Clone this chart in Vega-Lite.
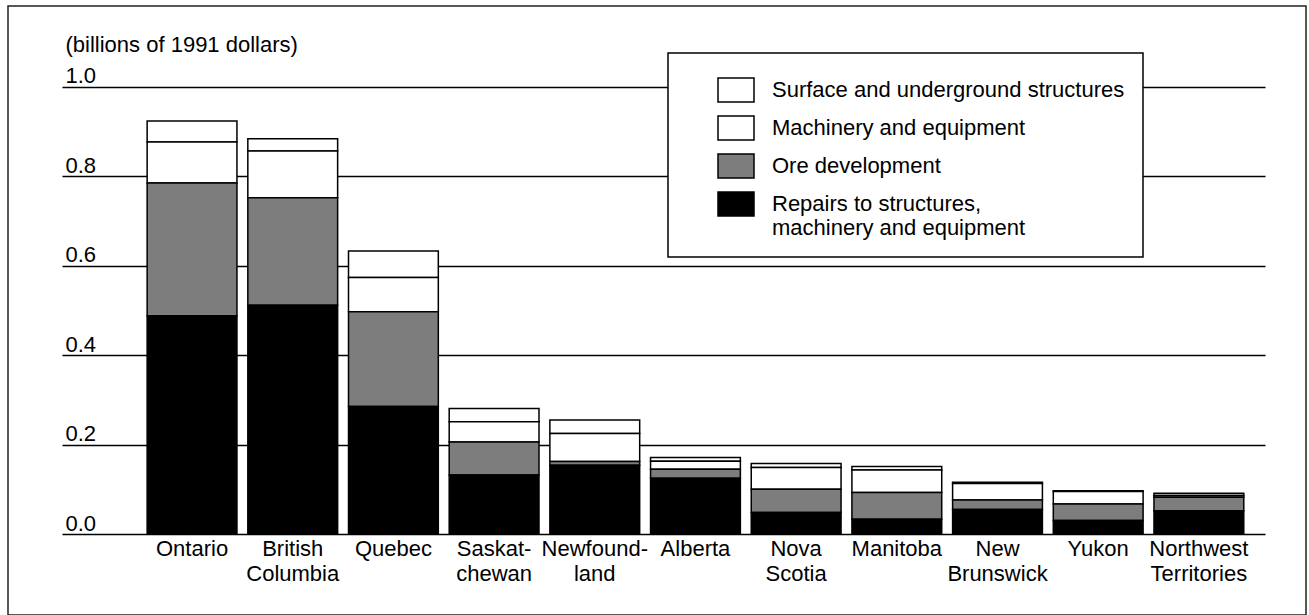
{
  "$schema": "https://vega.github.io/schema/vega-lite/v6.json",
  "width": 1298,
  "height": 609,
  "autosize": {"type": "none"},
  "padding": {"left": 8, "top": 6, "right": 3, "bottom": 0},
  "background": "white",
  "config": {
    "font": "Liberation Sans",
    "view": {"stroke": "#222", "strokeWidth": 1.5}
  },
  "data": {
    "values": [
      {"province": "Ontario", "component": "Surface and underground structures", "value": 0.047},
      {"province": "Ontario", "component": "Machinery and equipment", "value": 0.092},
      {"province": "Ontario", "component": "Ore development", "value": 0.297},
      {"province": "Ontario", "component": "Repairs to structures, machinery and equipment", "value": 0.488},
      {"province": "British Columbia", "component": "Surface and underground structures", "value": 0.027},
      {"province": "British Columbia", "component": "Machinery and equipment", "value": 0.105},
      {"province": "British Columbia", "component": "Ore development", "value": 0.240},
      {"province": "British Columbia", "component": "Repairs to structures, machinery and equipment", "value": 0.512},
      {"province": "Quebec", "component": "Surface and underground structures", "value": 0.059},
      {"province": "Quebec", "component": "Machinery and equipment", "value": 0.077},
      {"province": "Quebec", "component": "Ore development", "value": 0.212},
      {"province": "Quebec", "component": "Repairs to structures, machinery and equipment", "value": 0.285},
      {"province": "Saskatchewan", "component": "Surface and underground structures", "value": 0.030},
      {"province": "Saskatchewan", "component": "Machinery and equipment", "value": 0.045},
      {"province": "Saskatchewan", "component": "Ore development", "value": 0.074},
      {"province": "Saskatchewan", "component": "Repairs to structures, machinery and equipment", "value": 0.132},
      {"province": "Newfoundland", "component": "Surface and underground structures", "value": 0.030},
      {"province": "Newfoundland", "component": "Machinery and equipment", "value": 0.063},
      {"province": "Newfoundland", "component": "Ore development", "value": 0.008},
      {"province": "Newfoundland", "component": "Repairs to structures, machinery and equipment", "value": 0.154},
      {"province": "Alberta", "component": "Surface and underground structures", "value": 0.008},
      {"province": "Alberta", "component": "Machinery and equipment", "value": 0.018},
      {"province": "Alberta", "component": "Ore development", "value": 0.020},
      {"province": "Alberta", "component": "Repairs to structures, machinery and equipment", "value": 0.125},
      {"province": "Nova Scotia", "component": "Surface and underground structures", "value": 0.009},
      {"province": "Nova Scotia", "component": "Machinery and equipment", "value": 0.049},
      {"province": "Nova Scotia", "component": "Ore development", "value": 0.052},
      {"province": "Nova Scotia", "component": "Repairs to structures, machinery and equipment", "value": 0.048},
      {"province": "Manitoba", "component": "Surface and underground structures", "value": 0.008},
      {"province": "Manitoba", "component": "Machinery and equipment", "value": 0.050},
      {"province": "Manitoba", "component": "Ore development", "value": 0.060},
      {"province": "Manitoba", "component": "Repairs to structures, machinery and equipment", "value": 0.033},
      {"province": "New Brunswick", "component": "Surface and underground structures", "value": 0.003},
      {"province": "New Brunswick", "component": "Machinery and equipment", "value": 0.037},
      {"province": "New Brunswick", "component": "Ore development", "value": 0.021},
      {"province": "New Brunswick", "component": "Repairs to structures, machinery and equipment", "value": 0.055},
      {"province": "Yukon", "component": "Surface and underground structures", "value": 0.002},
      {"province": "Yukon", "component": "Machinery and equipment", "value": 0.028},
      {"province": "Yukon", "component": "Ore development", "value": 0.037},
      {"province": "Yukon", "component": "Repairs to structures, machinery and equipment", "value": 0.030},
      {"province": "Northwest Territories", "component": "Surface and underground structures", "value": 0.005},
      {"province": "Northwest Territories", "component": "Machinery and equipment", "value": 0.004},
      {"province": "Northwest Territories", "component": "Ore development", "value": 0.030},
      {"province": "Northwest Territories", "component": "Repairs to structures, machinery and equipment", "value": 0.052}
    ]
  },
  "transform": [
    {"calculate": "indexof(['Surface and underground structures', 'Machinery and equipment', 'Ore development', 'Repairs to structures, machinery and equipment'], datum.component)", "as": "stack_rank"}
  ],
  "mark": {"type": "bar", "stroke": "black", "strokeWidth": 1.5},
  "encoding": {
    "x": {
      "field": "province",
      "type": "nominal",
      "sort": null,
      "scale": {"paddingInner": 0.108, "paddingOuter": 1.0245, "align": 0.691},
      "axis": {
        "title": null,
        "orient": "bottom",
        "offset": -81,
        "domain": false,
        "ticks": false,
        "labelAngle": 0,
        "labelAlign": "center",
        "labelBaseline": "top",
        "labelPadding": 4,
        "labelFontSize": 22,
        "labelLineHeight": 25,
        "labelColor": "black",
        "labelLimit": 0,
        "labelExpr": "datum.value == 'Saskatchewan' ? ['Saskat-', 'chewan'] : datum.value == 'Newfoundland' ? ['Newfound-', 'land'] : split(datum.value, ' ')"
      }
    },
    "y": {
      "field": "value",
      "type": "quantitative",
      "stack": "zero",
      "scale": {"domain": [-0.1812, 1.1812], "nice": false, "zero": false},
      "axis": {
        "orient": "left",
        "offset": -54,
        "domain": false,
        "grid": false,
        "ticks": true,
        "tickSize": -1203,
        "tickColor": "black",
        "tickWidth": 1.5,
        "values": [0, 0.2, 0.4, 0.6, 0.8, 1.0],
        "format": ".1f",
        "labelAlign": "left",
        "labelBaseline": "alphabetic",
        "labelPadding": 1200,
        "labelOffset": -4,
        "labelFontSize": 22,
        "labelColor": "black",
        "title": "(billions of 1991 dollars)",
        "titleAngle": 0,
        "titleAlign": "left",
        "titleBaseline": "alphabetic",
        "titleX": 3,
        "titleY": 45,
        "titleFontSize": 22,
        "titleFontWeight": "normal",
        "titleColor": "black"
      }
    },
    "order": {"field": "stack_rank", "type": "quantitative", "sort": "descending"},
    "color": {
      "field": "component",
      "type": "nominal",
      "sort": [
        "Surface and underground structures",
        "Machinery and equipment",
        "Ore development",
        "Repairs to structures, machinery and equipment"
      ],
      "scale": {"range": ["white", "white", "#7d7d7d", "black"]},
      "legend": {
        "title": null,
        "orient": "none",
        "legendX": 660,
        "legendY": 47,
        "padding": 18,
        "strokeColor": "black",
        "fillColor": "white",
        "symbolType": "M-1,-0.667H1V0.667H-1Z",
        "symbolSize": 1296,
        "symbolStrokeColor": "black",
        "symbolStrokeWidth": 1.5,
        "symbolOffset": 31,
        "labelOffset": 17,
        "labelFontSize": 22,
        "labelColor": "black",
        "labelLimit": 0,
        "labelLineHeight": 24,
        "rowPadding": 3,
        "labelExpr": "datum.label == 'Repairs to structures, machinery and equipment' ? ['Repairs to structures,', 'machinery and equipment'] : datum.label",
        "encode": {"legend": {"update": {"strokeWidth": {"value": 1.5}}}}
      }
    }
  }
}
